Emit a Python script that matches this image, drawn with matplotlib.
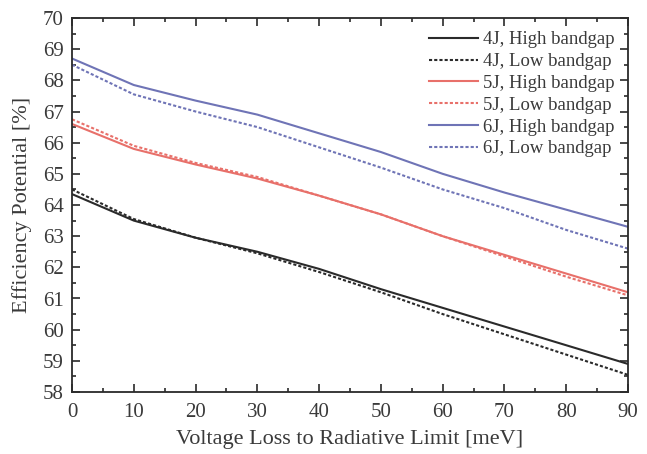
import matplotlib
matplotlib.use("Agg")
import matplotlib.pyplot as plt
from matplotlib.ticker import MultipleLocator

x = [0, 10, 20, 30, 40, 50, 60, 70, 80, 90]
j4_high = [64.35, 63.5, 62.95, 62.5, 61.95, 61.3, 60.7, 60.1, 59.5, 58.9]
j4_low = [64.5, 63.55, 62.95, 62.45, 61.85, 61.2, 60.5, 59.85, 59.2, 58.55]
j5_high = [66.6, 65.8, 65.3, 64.85, 64.3, 63.7, 63.0, 62.4, 61.8, 61.2]
j5_low = [66.75, 65.9, 65.35, 64.9, 64.3, 63.7, 63.0, 62.35, 61.7, 61.1]
j6_high = [68.7, 67.85, 67.35, 66.9, 66.3, 65.7, 65.0, 64.4, 63.85, 63.3]
j6_low = [68.5, 67.55, 67.0, 66.5, 65.85, 65.2, 64.5, 63.9, 63.2, 62.6]

labels = ["4J, High bandgap", "4J, Low bandgap", "5J, High bandgap",
          "5J, Low bandgap", "6J, High bandgap", "6J, Low bandgap"]

plt.rcParams['font.family'] = ['Liberation Serif', 'DejaVu Serif']
txt = '#3a3a3a'

fig = plt.figure(figsize=(6.47, 4.54), dpi=100)
ax = fig.add_axes([72/647, 62/454, 556/647, 374/454])

black = '#2a2a2a'
red = '#e8706a'
blue = '#6f74b6'
ax.plot(x, j4_high, color=black, lw=1.5, label=labels[0])
ax.plot(x, j4_low, color=black, lw=1.5, ls=(0, (1.5, 1)), label=labels[1])
ax.plot(x, j5_high, color=red, lw=1.5, label=labels[2])
ax.plot(x, j5_low, color=red, lw=1.5, ls=(0, (1.5, 1)), label=labels[3])
ax.plot(x, j6_high, color=blue, lw=1.5, label=labels[4])
ax.plot(x, j6_low, color=blue, lw=1.5, ls=(0, (1.5, 1)), label=labels[5])

ax.set_xlim(0, 90)
ax.set_ylim(58, 70)
ax.xaxis.set_major_locator(MultipleLocator(10))
ax.xaxis.set_minor_locator(MultipleLocator(5))
ax.yaxis.set_major_locator(MultipleLocator(1))
ax.yaxis.set_minor_locator(MultipleLocator(0.5))
ax.tick_params(which='both', direction='in', top=True, right=True,
               labelsize=15, colors=black, labelcolor=txt, width=1.2)
ax.tick_params(which='major', length=6, pad=6)
ax.tick_params(axis='x', which='major', pad=8)
ax.tick_params(which='minor', length=3)
for s in ax.spines.values():
    s.set_linewidth(1.3)
    s.set_color(black)

ax.set_xlabel("Voltage Loss to Radiative Limit [meV]", fontsize=16, color=txt, labelpad=6)
ax.set_ylabel("Efficiency Potential [%]", fontsize=16, color=txt, labelpad=8)

leg = ax.legend(loc='upper right', frameon=False, fontsize=13.5, handlelength=2.6,
                handletextpad=0.3, labelspacing=0.25, borderaxespad=0.3)
for t in leg.get_texts():
    t.set_color(txt)

fig.savefig("out.png", dpi=100)
